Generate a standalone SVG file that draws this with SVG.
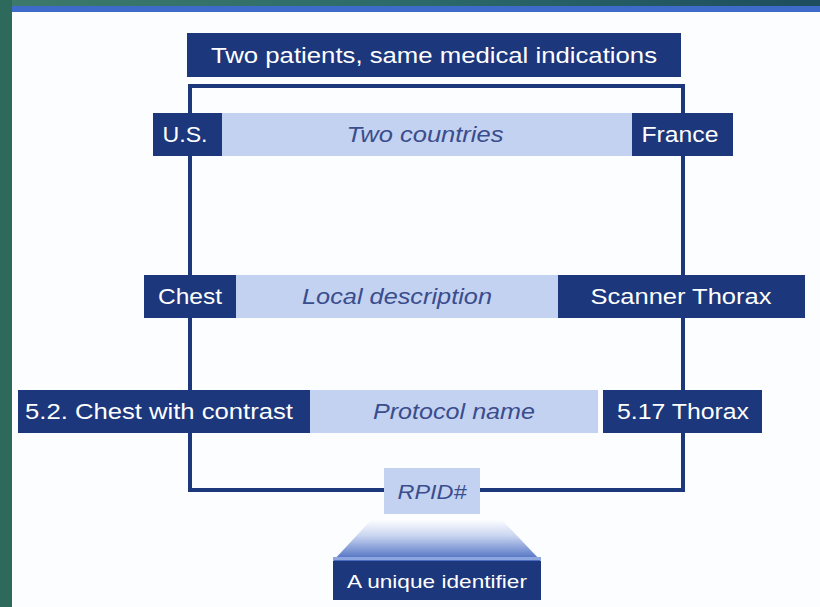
<svg xmlns="http://www.w3.org/2000/svg" width="820" height="607" viewBox="0 0 820 607">
<defs>
<linearGradient id="topbar" x1="0" y1="0" x2="1" y2="0">
<stop offset="0" stop-color="#3d7a6a"/><stop offset="0.5" stop-color="#2c6a6a"/><stop offset="1" stop-color="#1d4d5e"/>
</linearGradient>
<linearGradient id="trap" x1="0" y1="0" x2="0" y2="1">
<stop offset="0" stop-color="#ffffff"/><stop offset="0.4" stop-color="#c9d5f0"/><stop offset="1" stop-color="#4669c0"/>
</linearGradient>
<style>
.dark{fill:#1c377c}
.light{fill:#c4d2f1}
.wt{font-family:"Liberation Sans","Open Sans",sans-serif;fill:#ffffff;font-size:22px;text-anchor:middle}
.it{font-family:"Liberation Sans","Open Sans",sans-serif;fill:#3a4d8c;font-size:22px;font-style:italic;text-anchor:middle}
.frame{fill:none;stroke:#1c377c;stroke-width:4}
</style>
</defs>
<rect x="0" y="0" width="820" height="607" fill="#fcfdff"/>
<rect x="0" y="0" width="820" height="6" fill="url(#topbar)"/>
<rect x="0" y="6" width="820" height="6" fill="#3e6bc9"/>
<rect x="0" y="0" width="12" height="607" fill="#2e6a5c"/>

<g id="connectors">
<rect class="frame" x="190" y="86" width="493" height="404"/>
<polygon points="372,519 501,519 541,561 333,561" fill="url(#trap)"/>
<rect x="333" y="557" width="208" height="3" fill="#8ea6e0"/>
</g>

<g id="title">
<rect class="dark" x="187" y="33" width="494" height="44"/>
<text class="wt" x="434" y="63" textLength="446" lengthAdjust="spacingAndGlyphs">Two patients, same medical indications</text>
</g>

<g id="row1">
<rect class="light" x="222" y="113" width="410" height="43"/>
<text class="it" x="425" y="142" textLength="157" lengthAdjust="spacingAndGlyphs">Two countries</text>
<g id="us"><rect class="dark" x="153" y="113" width="69" height="43"/>
<text class="wt" x="185" y="142" textLength="45" lengthAdjust="spacingAndGlyphs">U.S.</text></g>
<g id="france"><rect class="dark" x="632" y="113" width="101" height="43"/>
<text class="wt" x="680" y="142" textLength="77" lengthAdjust="spacingAndGlyphs">France</text></g>
</g>

<g id="row2">
<rect class="light" x="236" y="275" width="322" height="43"/>
<text class="it" x="397" y="304" textLength="190" lengthAdjust="spacingAndGlyphs">Local description</text>
<g id="chest"><rect class="dark" x="144" y="275" width="92" height="43"/>
<text class="wt" x="190" y="304" textLength="64" lengthAdjust="spacingAndGlyphs">Chest</text></g>
<g id="scanner"><rect class="dark" x="558" y="275" width="247" height="43"/>
<text class="wt" x="681" y="304" textLength="181" lengthAdjust="spacingAndGlyphs">Scanner Thorax</text></g>
</g>

<g id="row3">
<rect class="light" x="310" y="390" width="288" height="43"/>
<text class="it" x="454" y="419" textLength="162" lengthAdjust="spacingAndGlyphs">Protocol name</text>
<g id="chest-contrast"><rect class="dark" x="18" y="390" width="292" height="43"/>
<text class="wt" x="159" y="419" textLength="268" lengthAdjust="spacingAndGlyphs">5.2. Chest with contrast</text></g>
<g id="thorax"><rect class="dark" x="603" y="390" width="159" height="43"/>
<text class="wt" x="683" y="419" textLength="132" lengthAdjust="spacingAndGlyphs">5.17 Thorax</text></g>
</g>

<g id="rpid">
<rect class="light" x="384" y="468" width="96" height="46"/>
<text class="it" x="432" y="499" style="font-size:20px" textLength="69" lengthAdjust="spacingAndGlyphs">RPID#</text>
</g>

<g id="identifier">
<rect class="dark" x="333" y="561" width="208" height="39"/>
<text class="wt" x="437" y="588" style="font-size:19px" textLength="180" lengthAdjust="spacingAndGlyphs">A unique identifier</text>
</g>
</svg>
